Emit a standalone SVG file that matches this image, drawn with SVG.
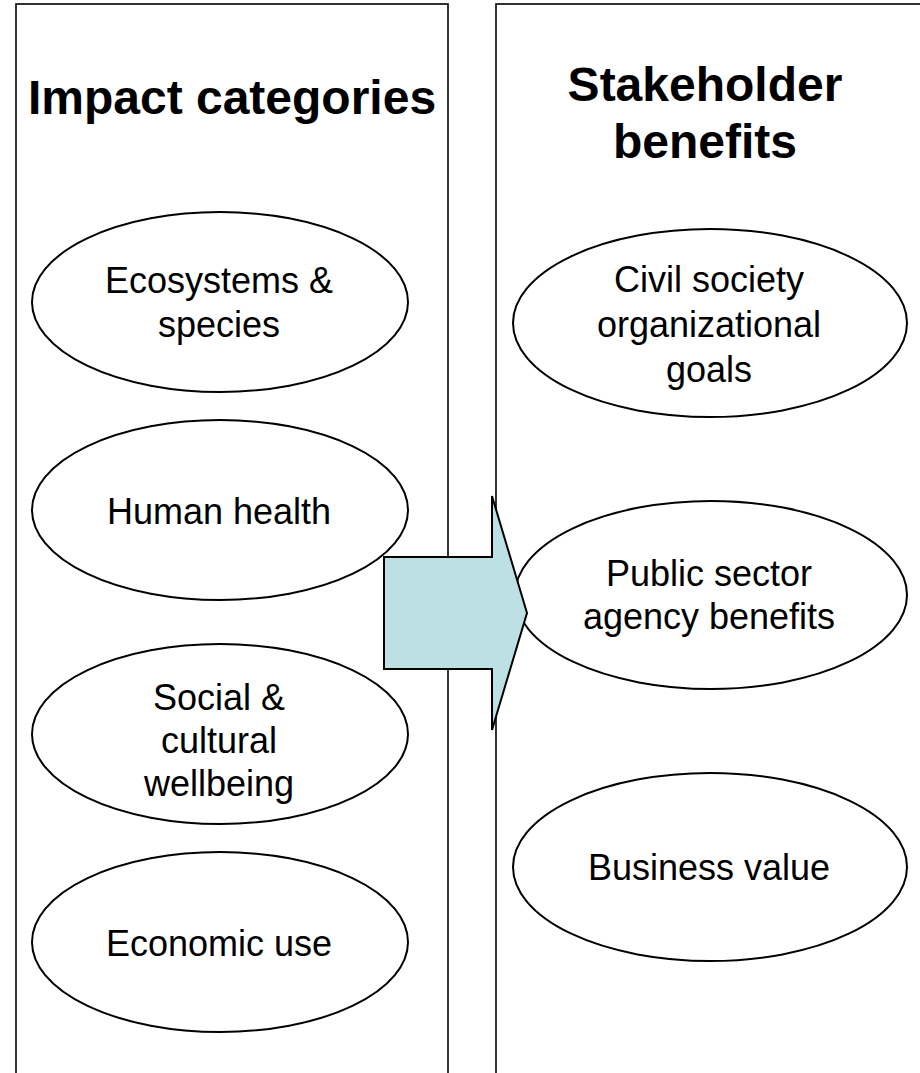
<svg xmlns="http://www.w3.org/2000/svg" width="920" height="1073" viewBox="0 0 920 1073">
  <style>
    .panel { fill: #ffffff; stroke: #000000; stroke-width: 1.6; }
    .node { fill: #ffffff; stroke: #000000; stroke-width: 2; }
    .title { font-family: "Liberation Sans", Arial, sans-serif; font-weight: bold; font-size: 48px; fill: #000000; text-anchor: middle; }
    .label { font-family: "Liberation Sans", Arial, sans-serif; font-size: 36px; fill: #000000; text-anchor: middle; }
    .arrow { fill: #BCE0E3; stroke: #000000; stroke-width: 2; stroke-linejoin: miter; }
  </style>
  <rect width="920" height="1073" fill="#ffffff"/>
  <g id="panel-impact">
    <rect class="panel" x="16" y="4" width="432" height="1090"/>
    <text class="title" x="232" y="114">Impact categories</text>
  </g>
  <g id="panel-stakeholder">
    <rect class="panel" x="496" y="4" width="440" height="1090"/>
    <text class="title" x="705" y="101">Stakeholder</text>
    <text class="title" x="705" y="158">benefits</text>
  </g>
  <g id="node-ecosystems">
    <ellipse class="node" cx="220" cy="302" rx="188" ry="90"/>
    <text class="label" x="219" y="293">Ecosystems &amp;</text>
    <text class="label" x="219" y="337">species</text>
  </g>
  <g id="node-human-health">
    <ellipse class="node" cx="220" cy="510" rx="188" ry="90"/>
    <text class="label" x="219" y="524">Human health</text>
  </g>
  <g id="node-social">
    <ellipse class="node" cx="220" cy="734" rx="188" ry="90"/>
    <text class="label" x="219" y="710">Social &amp;</text>
    <text class="label" x="219" y="753">cultural</text>
    <text class="label" x="219" y="796">wellbeing</text>
  </g>
  <g id="node-economic">
    <ellipse class="node" cx="220" cy="942" rx="188" ry="90"/>
    <text class="label" x="219" y="956">Economic use</text>
  </g>
  <g id="node-civil">
    <ellipse class="node" cx="710" cy="323" rx="197" ry="94"/>
    <text class="label" x="709" y="292">Civil society</text>
    <text class="label" x="709" y="337">organizational</text>
    <text class="label" x="709" y="382">goals</text>
  </g>
  <g id="node-public">
    <ellipse class="node" cx="711" cy="595" rx="196" ry="94"/>
    <text class="label" x="709" y="586">Public sector</text>
    <text class="label" x="709" y="629">agency benefits</text>
  </g>
  <g id="node-business">
    <ellipse class="node" cx="710" cy="867" rx="197" ry="94"/>
    <text class="label" x="709" y="880">Business value</text>
  </g>
  <g id="connectors">
    <polygon class="arrow" points="384,557 492,557 492,496 527,613 492,730 492,669 384,669"/>
  </g>
</svg>
